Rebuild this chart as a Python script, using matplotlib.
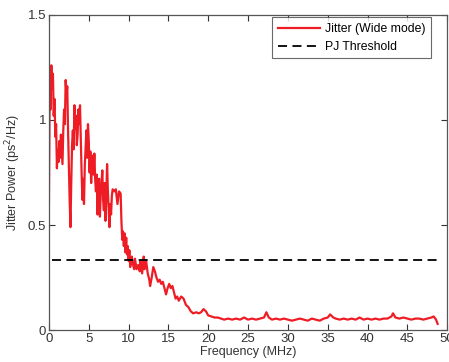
import numpy as np
import matplotlib
matplotlib.use("Agg")
import matplotlib.pyplot as plt

plt.rcParams['font.family'] = ['Liberation Sans', 'DejaVu Sans']

# jitter spectrum (MHz, ps^2/Hz)
freq = [0.0, 0.1, 0.2, 0.3, 0.4, 0.5, 0.6, 0.7, 0.8, 0.9,
        1.0, 1.1, 1.2, 1.3, 1.4, 1.5, 1.6, 1.7, 1.8, 1.9,
        2.0, 2.1, 2.2, 2.3, 2.4, 2.5, 2.6, 2.7, 2.8, 2.9,
        3.0, 3.1, 3.2, 3.3, 3.4, 3.5, 3.6, 3.7, 3.8, 3.9,
        4.0, 4.1, 4.2, 4.3, 4.4, 4.5, 4.6, 4.7, 4.8, 4.9,
        5.0, 5.1, 5.2, 5.3, 5.4, 5.5, 5.6, 5.7, 5.8, 5.9,
        6.0, 6.1, 6.2, 6.3, 6.4, 6.5, 6.6, 6.7, 6.8, 6.9,
        7.0, 7.1, 7.2, 7.3, 7.4, 7.5, 7.6, 7.7, 7.8, 7.9,
        8.0, 8.2, 8.4, 8.6, 8.8, 9.0, 9.1, 9.2, 9.3, 9.4,
        9.5, 9.6, 9.7, 9.8, 9.9, 10.0, 10.1, 10.2, 10.4, 10.5,
        10.7, 10.8, 11.0, 11.2, 11.4, 11.5, 11.7, 11.9, 12.0, 12.2,
        12.4, 12.6, 12.7, 12.9, 13.1, 13.3, 13.5, 13.7, 13.9, 14.1,
        14.3, 14.5, 14.7, 14.9, 15.1, 15.3, 15.5, 15.7, 15.9, 16.1,
        16.3, 16.6, 16.9, 17.2, 17.5, 17.8, 18.1, 18.5, 18.8, 19.1,
        19.4, 19.7, 20.0, 20.4, 20.8, 21.2, 21.6, 22.0, 22.5, 23.0,
        23.5, 24.0, 24.5, 25.0, 25.5, 26.0, 26.5, 27.0, 27.3, 27.6,
        28.0, 28.5, 29.0, 29.5, 30.0, 30.5, 31.0, 31.5, 32.0, 32.5,
        33.0, 33.5, 34.0, 34.5, 35.0, 35.3, 35.7, 36.0, 36.5, 37.0,
        37.5, 38.0, 38.5, 39.0, 39.5, 40.0, 40.5, 41.0, 41.5, 42.0,
        42.5, 43.0, 43.2, 43.5, 44.0, 44.5, 45.0, 45.5, 46.0, 46.5,
        47.0, 47.5, 48.0, 48.3, 48.6, 48.8]
power = [0.61, 1.18, 1.05, 1.26, 1.15, 1.22, 1.02, 1.10, 0.92, 0.98,
         0.77, 0.86, 0.80, 0.90, 0.82, 0.93, 0.86, 0.79, 0.95, 1.05,
         0.98, 1.19, 1.12, 1.16, 0.95, 0.78, 0.62, 0.49, 0.70, 0.88,
         0.95, 0.86, 1.07, 0.96, 1.02, 0.88, 0.93, 1.05, 0.98, 1.07,
         0.90, 0.75, 0.62, 0.72, 0.60, 0.78, 0.86, 0.95, 0.82, 0.98,
         0.90, 0.75, 0.85, 0.70, 0.80, 0.83, 0.74, 0.84, 0.72, 0.66,
         0.74, 0.55, 0.68, 0.72, 0.54, 0.65, 0.70, 0.76, 0.62, 0.57,
         0.70, 0.52, 0.64, 0.79, 0.66, 0.58, 0.49, 0.60, 0.55, 0.64,
         0.67, 0.66, 0.67, 0.60, 0.66, 0.65, 0.52, 0.43, 0.47, 0.40,
         0.46, 0.37, 0.44, 0.36, 0.40, 0.33, 0.38, 0.30, 0.35, 0.32,
         0.29, 0.34, 0.29, 0.31, 0.28, 0.33, 0.27, 0.35, 0.29, 0.33,
         0.27, 0.24, 0.21, 0.25, 0.30, 0.28, 0.25, 0.23, 0.24, 0.22,
         0.23, 0.20, 0.17, 0.20, 0.22, 0.20, 0.21, 0.18, 0.15, 0.16,
         0.14, 0.16, 0.15, 0.12, 0.11, 0.09, 0.08, 0.085, 0.08, 0.085,
         0.10, 0.09, 0.07, 0.065, 0.06, 0.06, 0.055, 0.05, 0.055, 0.05,
         0.055, 0.05, 0.06, 0.05, 0.055, 0.05, 0.055, 0.06, 0.085, 0.06,
         0.05, 0.055, 0.05, 0.055, 0.05, 0.045, 0.05, 0.055, 0.05, 0.045,
         0.055, 0.05, 0.045, 0.055, 0.06, 0.075, 0.06, 0.055, 0.05, 0.055,
         0.05, 0.055, 0.05, 0.06, 0.05, 0.055, 0.05, 0.055, 0.05, 0.055,
         0.055, 0.065, 0.08, 0.06, 0.055, 0.06, 0.055, 0.05, 0.055, 0.055,
         0.05, 0.055, 0.06, 0.065, 0.05, 0.03]

pj_freq = [0.4, 48.8]
pj_level = 0.333

fig = plt.figure(figsize=(4.49, 3.62), dpi=100)
ax = fig.add_axes([0.109, 0.088, 0.887, 0.871])

ax.plot(freq, power, color='#ee1c24', lw=1.6, label='Jitter (Wide mode)')
ax.plot(pj_freq, [pj_level, pj_level], color='black', lw=1.3, ls=(0, (5, 3)),
        label='PJ Threshold')

ax.set_xlim(0, 50)
ax.set_ylim(0, 1.5)
ax.set_xticks(np.arange(0, 51, 5))
ax.set_yticks([0, 0.5, 1, 1.5])
ax.set_yticklabels(['0', '0.5', '1', '1.5'])
ax.tick_params(direction='in', top=True, right=True, labelsize=9.5,
               length=4, width=0.8, colors='#333333', pad=2)
for s in ax.spines.values():
    s.set_color('#555555')
    s.set_linewidth(0.9)

ax.set_xlabel('Frequency (MHz)', fontsize=9, color='#333333', labelpad=1)
ax.set_ylabel('Jitter Power (ps$^2$/Hz)', fontsize=9, color='#333333', labelpad=3)

leg = ax.legend(loc='upper right', bbox_to_anchor=(0.96, 0.992), fontsize=8.8,
                frameon=True, fancybox=False, edgecolor='#444444',
                borderaxespad=0, handlelength=3.5, handletextpad=0.4,
                borderpad=0.45, labelspacing=0.5)
leg.get_frame().set_linewidth(0.8)

fig.savefig('out.png', dpi=100)
